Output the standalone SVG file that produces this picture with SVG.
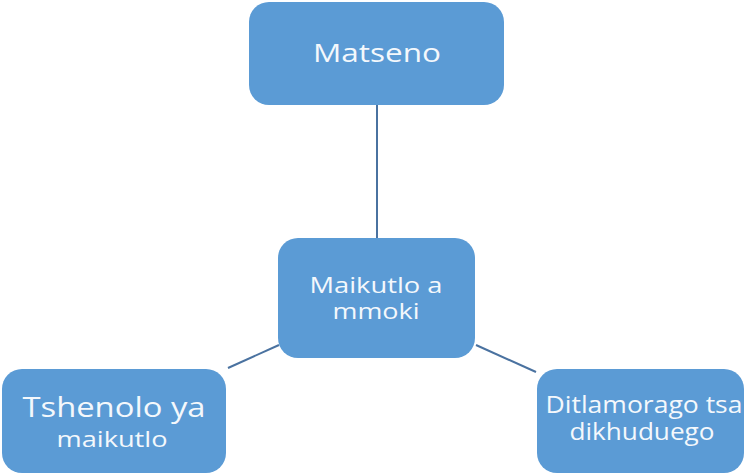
<svg xmlns="http://www.w3.org/2000/svg" width="745" height="474" viewBox="0 0 745 474">
<style>
.box{fill:#5b9bd5;}
.lbl{fill:#f4f8fc;font-family:"Open Sans","Liberation Sans",sans-serif;text-anchor:middle;}
.conn{stroke:#4a72a0;stroke-width:2;fill:none;}
</style>
<rect width="745" height="474" fill="#ffffff"/>
<g id="connectors">
<line class="conn" x1="377" y1="105" x2="377" y2="238"/>
<line class="conn" x1="228" y1="368" x2="279" y2="345"/>
<line class="conn" x1="476" y1="345" x2="536" y2="372"/>
</g>
<g id="node-matseno">
<rect class="box" x="249" y="2" width="255" height="103" rx="20"/>
<text class="lbl" x="377" y="62" font-size="26" textLength="128" lengthAdjust="spacingAndGlyphs">Matseno</text>
</g>
<g id="node-maikutlo">
<rect class="box" x="278" y="238" width="197" height="120" rx="20"/>
<text class="lbl" x="376" y="293" font-size="22" textLength="133" lengthAdjust="spacingAndGlyphs">Maikutlo a</text>
<text class="lbl" x="376" y="319" font-size="22" textLength="87" lengthAdjust="spacingAndGlyphs">mmoki</text>
</g>
<g id="node-tshenolo">
<rect class="box" x="2" y="369" width="224" height="104" rx="20"/>
<text class="lbl" x="114" y="417" font-size="28" textLength="183" lengthAdjust="spacingAndGlyphs">Tshenolo ya</text>
<text class="lbl" x="112" y="447" font-size="22" textLength="111" lengthAdjust="spacingAndGlyphs">maikutlo</text>
</g>
<g id="node-ditlamorago">
<rect class="box" x="537" y="369" width="207" height="104" rx="20"/>
<text class="lbl" x="644" y="413" font-size="23" textLength="197" lengthAdjust="spacingAndGlyphs">Ditlamorago tsa</text>
<text class="lbl" x="642" y="440" font-size="23" textLength="145" lengthAdjust="spacingAndGlyphs">dikhuduego</text>
</g>
</svg>
